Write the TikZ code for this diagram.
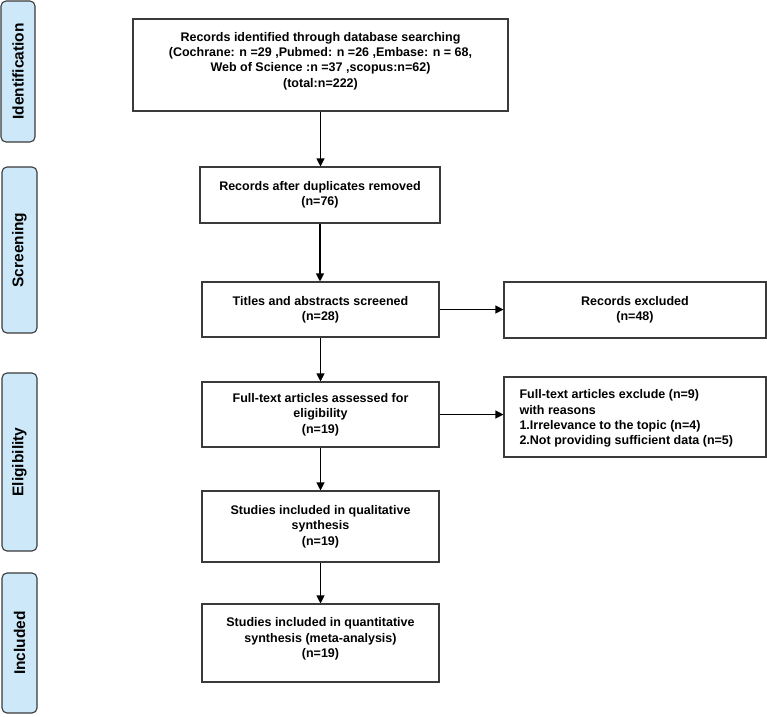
\documentclass[tikz,border=0pt]{standalone}
\usepackage{fontspec}
\setmainfont{Liberation Sans}
\usetikzlibrary{arrows.meta}
\definecolor{sidefill}{HTML}{CDE8F8}
\definecolor{edge}{HTML}{3A3A3A}
\tikzset{
  every node/.style={font=\bfseries\fontsize{12.5}{15.3}\selectfont, text=black},
  box/.style={draw=edge, line width=1.1pt, rectangle, align=center, inner sep=0pt},
  side/.style={draw=edge, line width=1.1pt, rectangle, rounded corners=5pt, fill=sidefill, inner sep=0pt},
  sidetext/.style={rotate=90, font=\bfseries\fontsize{15.5}{18}\selectfont},
  conn/.style={draw=black, line width=1.1pt, -{Triangle[length=8pt,width=8pt]}},
}
\begin{document}
\begin{tikzpicture}[x=1pt,y=-1pt]
\useasboundingbox (0,0) rectangle (767,716);
% side labels
\node[side, minimum width=34pt, minimum height=141pt] (sid) at (18,71.5) {};
\node[sidetext] (sidt) at (sid.center) {Identification};
\node[side, minimum width=35pt, minimum height=166pt] (sscr) at (19.5,250) {};
\node[sidetext] (sscrt) at (sscr.center) {Screening};
\node[side, minimum width=35pt, minimum height=178pt] (selg) at (19.5,462) {};
\node[sidetext] (selgt) at (selg.center) {Eligibility};
\node[side, minimum width=35pt, minimum height=140pt] (sinc) at (19.5,643) {};
\node[sidetext] (sinct) at (sinc.center) {Included};
% main boxes
\node[box, minimum width=375pt, minimum height=92pt] (b1) at (320.5,65) {};
\node (b1t) at (320.5,61) [align=center] {Records identified through database searching\\(Cochrane: n =29 ,Pubmed: n =26 ,Embase: n = 68,\\Web of Science :n =37 ,scopus:n=62)\\(total:n=222)};
\node[box, minimum width=240pt, minimum height=56pt] (b2) at (320,195) {Records after duplicates removed\\(n=76)};
\node[box, minimum width=237pt, minimum height=55pt] (b3) at (320.5,309.5) {Titles and abstracts screened\\(n=28)};
\node[box, minimum width=262pt, minimum height=56pt] (e1) at (635,310) {Records excluded\\(n=48)};
\node[box, minimum width=237pt, minimum height=65pt] (b4) at (320.5,414.5) {Full-text articles assessed for\\eligibility\\(n=19)};
\node[box, minimum width=262pt, minimum height=80pt] (e2) at (635,417) {};
\node[anchor=west, align=left] (e2t) at (516,418.5) {Full-text articles exclude (n=9)\\with reasons\\1.Irrelevance to the topic (n=4)\\2.Not providing sufficient data (n=5)};
\node[box, minimum width=237pt, minimum height=71pt] (b5) at (320.5,526.5) {Studies included in qualitative\\synthesis\\(n=19)};
\node[box, minimum width=237pt, minimum height=78pt] (b6) at (320.5,643) {};
\node (b6t) at (320.5,639) [align=center] {Studies included in quantitative\\synthesis (meta-analysis)\\(n=19)};
% connectors
\draw[conn] (b1.south) -- (b1.south |- b2.north);
\draw[conn] (b2.south) -- (b2.south |- b3.north);
\draw[conn] (b3.south) -- (b3.south |- b4.north);
\draw[conn] (b4.south) -- (b4.south |- b5.north);
\draw[conn] (b5.south) -- (b5.south |- b6.north);
\draw[conn] (b3.east) -- (e1.west |- b3.east);
\draw[conn] (b4.east) -- (e2.west |- b4.east);
\end{tikzpicture}
\end{document}
